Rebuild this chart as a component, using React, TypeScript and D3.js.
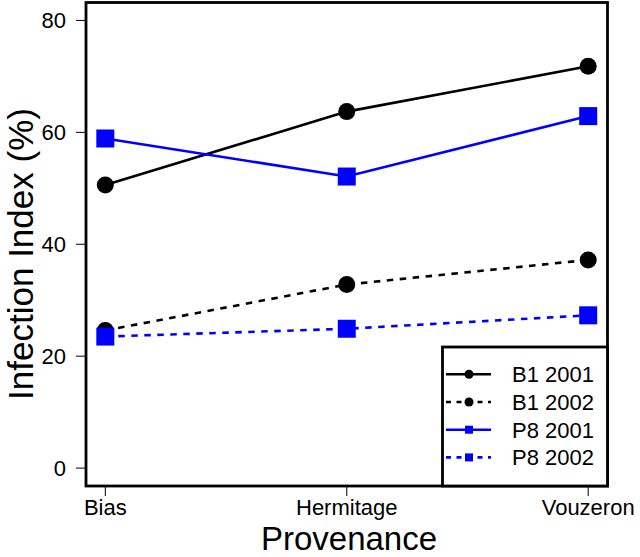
import React from "react";
import * as d3 from "d3";

const categories = ["Bias", "Hermitage", "Vouzeron"];
const b1_2001 = [50.6, 63.7, 71.8];
const b1_2002 = [24.6, 32.8, 37.2];
const p8_2001 = [58.9, 52.1, 62.9];
const p8_2002 = [23.5, 24.9, 27.3];
const yTicks = [0, 20, 40, 60, 80];

const seriesNames = ["B1 2001", "B1 2002", "P8 2001", "P8 2002"];
const seriesValues = [b1_2001, b1_2002, p8_2001, p8_2002];
const seriesColors = ["#000000", "#000000", "#0000ff", "#0000ff"];
const seriesDashed = [false, true, false, true];
const seriesShape = ["circle", "circle", "square", "square"];

const W = 640;
const H = 557;
const L = 86, R = 607.5, T = 2.5, B = 486;
const FONT = "'Liberation Sans', Arial, Helvetica, sans-serif";

export default function App() {
  const x = d3.scalePoint<string>().domain(categories).range([L, R]).padding(0.08);
  const y = d3.scaleLinear().domain([-3.2, 83.2]).range([B, T]);
  const line = d3
    .line<number>()
    .x((_, i) => x(categories[i]) as number)
    .y((d) => y(d));

  const legX = 442.5, legY = 347, legW = R - 442.5, legH = B - 347;
  const legRowY = (i: number) => 374.3 + i * 27.7;

  const marker = (shape: string, cx: number, cy: number, color: string, size: number, key: string) =>
    shape === "circle" ? (
      <circle key={key} cx={cx} cy={cy} r={size / 2} fill={color} />
    ) : (
      <rect key={key} x={cx - size / 2} y={cy - size / 2} width={size} height={size} fill={color} />
    );

  return (
    <svg
      width={W}
      height={H}
      style={{ position: "absolute", left: 0, top: 0, background: "#fff" }}
      fontFamily={FONT}
    >
      <rect x={0} y={0} width={W} height={H} fill="#fff" />
      {/* series */}
      {seriesValues.map((vals, si) => (
        <g key={seriesNames[si]}>
          <path
            d={line(vals) as string}
            fill="none"
            stroke={seriesColors[si]}
            strokeWidth={2.6}
            strokeDasharray={seriesDashed[si] ? "6.5 6.5" : undefined}
          />
          {vals.map((v, i) =>
            marker(
              seriesShape[si],
              x(categories[i]) as number,
              y(v),
              seriesColors[si],
              seriesShape[si] === "circle" ? 17 : 18,
              `${si}-${i}`
            )
          )}
        </g>
      ))}
      {/* box */}
      <rect x={L} y={T} width={R - L} height={B - T} fill="none" stroke="#000" strokeWidth={2.8} />
      {/* y axis */}
      {yTicks.map((t) => (
        <g key={t}>
          <line x1={L - 10} x2={L} y1={y(t)} y2={y(t)} stroke="#000" strokeWidth={1} />
          <text x={66} y={y(t)} dy="0.36em" textAnchor="end" fontSize={22}>
            {t}
          </text>
        </g>
      ))}
      {/* x axis */}
      {categories.map((c) => (
        <g key={c}>
          <line x1={x(c) as number} x2={x(c) as number} y1={B} y2={B + 10} stroke="#000" strokeWidth={1} />
          <text x={x(c) as number} y={515} textAnchor="middle" fontSize={22}>
            {c}
          </text>
        </g>
      ))}
      <text x={349} y={550} textAnchor="middle" fontSize={33}>
        Provenance
      </text>
      <text
        transform={`translate(33, ${254}) rotate(-90)`}
        textAnchor="middle"
        fontSize={35}
      >
        Infection Index (%)
      </text>
      {/* legend */}
      <rect x={legX} y={legY} width={legW} height={legH} fill="#fff" stroke="#000" strokeWidth={2.8} />
      {seriesNames.map((n, i) => (
        <g key={n}>
          <line
            x1={446}
            x2={491}
            y1={legRowY(i)}
            y2={legRowY(i)}
            stroke={seriesColors[i]}
            strokeWidth={2.6}
            strokeDasharray={seriesDashed[i] ? "5 5.5" : undefined}
          />
          {marker(seriesShape[i], 469, legRowY(i), seriesColors[i], seriesShape[i] === "circle" ? 9 : 8, `l${i}`)}
          <text x={512} y={legRowY(i)} dy="0.36em" fontSize={22}>
            {n}
          </text>
        </g>
      ))}
    </svg>
  );
}
